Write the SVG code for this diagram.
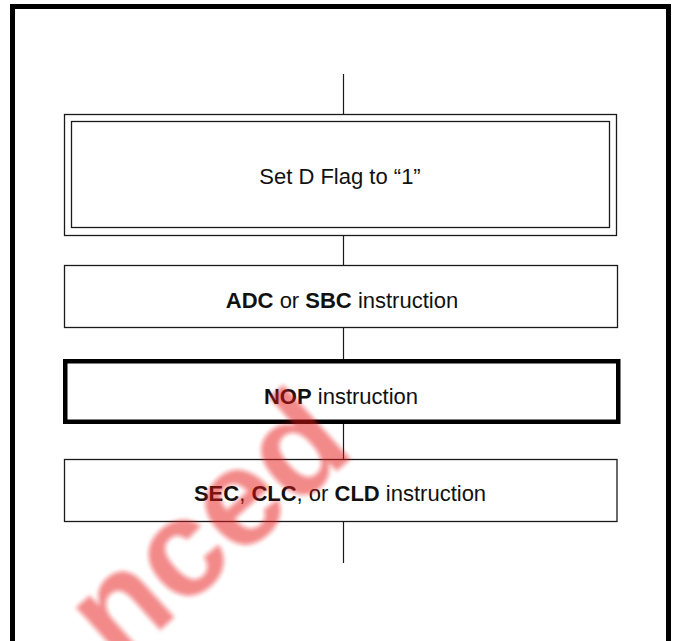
<svg xmlns="http://www.w3.org/2000/svg" width="675" height="641" viewBox="0 0 675 641">
  <style>
    .box { fill: none; stroke: #1a1a1a; stroke-width: 1.3; }
    .thick { fill: none; stroke: #000; stroke-width: 4.5; }
    .conn { stroke: #1a1a1a; stroke-width: 1.2; fill: none; }
    .lbl { font-family: "Liberation Sans", Arial, sans-serif; font-size: 22px; fill: #111; text-anchor: middle; }
    .b { font-weight: bold; }
    .wm { font-family: "Liberation Sans", Arial, sans-serif; font-size: 138px; font-weight: bold; fill: #e8141b; opacity: 0.5; }
  </style>
  <defs>
    <filter id="soft" x="-10%" y="-10%" width="120%" height="120%">
      <feGaussianBlur stdDeviation="2.2"/>
    </filter>
  </defs>
  <rect width="675" height="641" fill="#fff"/>
  <rect id="frame" x="12.5" y="6.5" width="656" height="700" fill="none" stroke="#000" stroke-width="5"/>

  <g id="connectors">
    <line class="conn" x1="343.5" y1="74" x2="343.5" y2="114.5"/>
    <line class="conn" x1="343.5" y1="235.5" x2="343.5" y2="265.5"/>
    <line class="conn" x1="343.5" y1="327.5" x2="343.5" y2="359"/>
    <line class="conn" x1="343.5" y1="424" x2="343.5" y2="459.5"/>
    <line class="conn" x1="343.5" y1="521.5" x2="343.5" y2="563"/>
  </g>

  <g id="set-d-flag">
    <rect class="box" x="64.5" y="114.5" width="552" height="121"/>
    <rect class="box" x="71.5" y="121.5" width="538" height="106"/>
    <text class="lbl" x="340" y="184">Set D Flag to “1”</text>
  </g>

  <g id="adc-sbc">
    <rect class="box" x="64.5" y="265.5" width="553" height="62"/>
    <text class="lbl" x="342" y="308"><tspan class="b">ADC</tspan> or <tspan class="b">SBC</tspan> instruction</text>
  </g>

  <g id="nop">
    <rect class="thick" x="65.25" y="361.25" width="553" height="60.5"/>
    <text class="lbl" x="341" y="404"><tspan class="b">NOP</tspan> instruction</text>
  </g>

  <g id="sec-clc-cld">
    <rect class="box" x="64.5" y="459.5" width="552.5" height="62"/>
    <text class="lbl" x="340" y="501"><tspan class="b">SEC</tspan>, <tspan class="b">CLC</tspan>, or <tspan class="b">CLD</tspan> instruction</text>
  </g>

  <g id="watermark" filter="url(#soft)">
    <text class="wm" transform="translate(118 668) rotate(-42)">nced</text>
  </g>
</svg>
